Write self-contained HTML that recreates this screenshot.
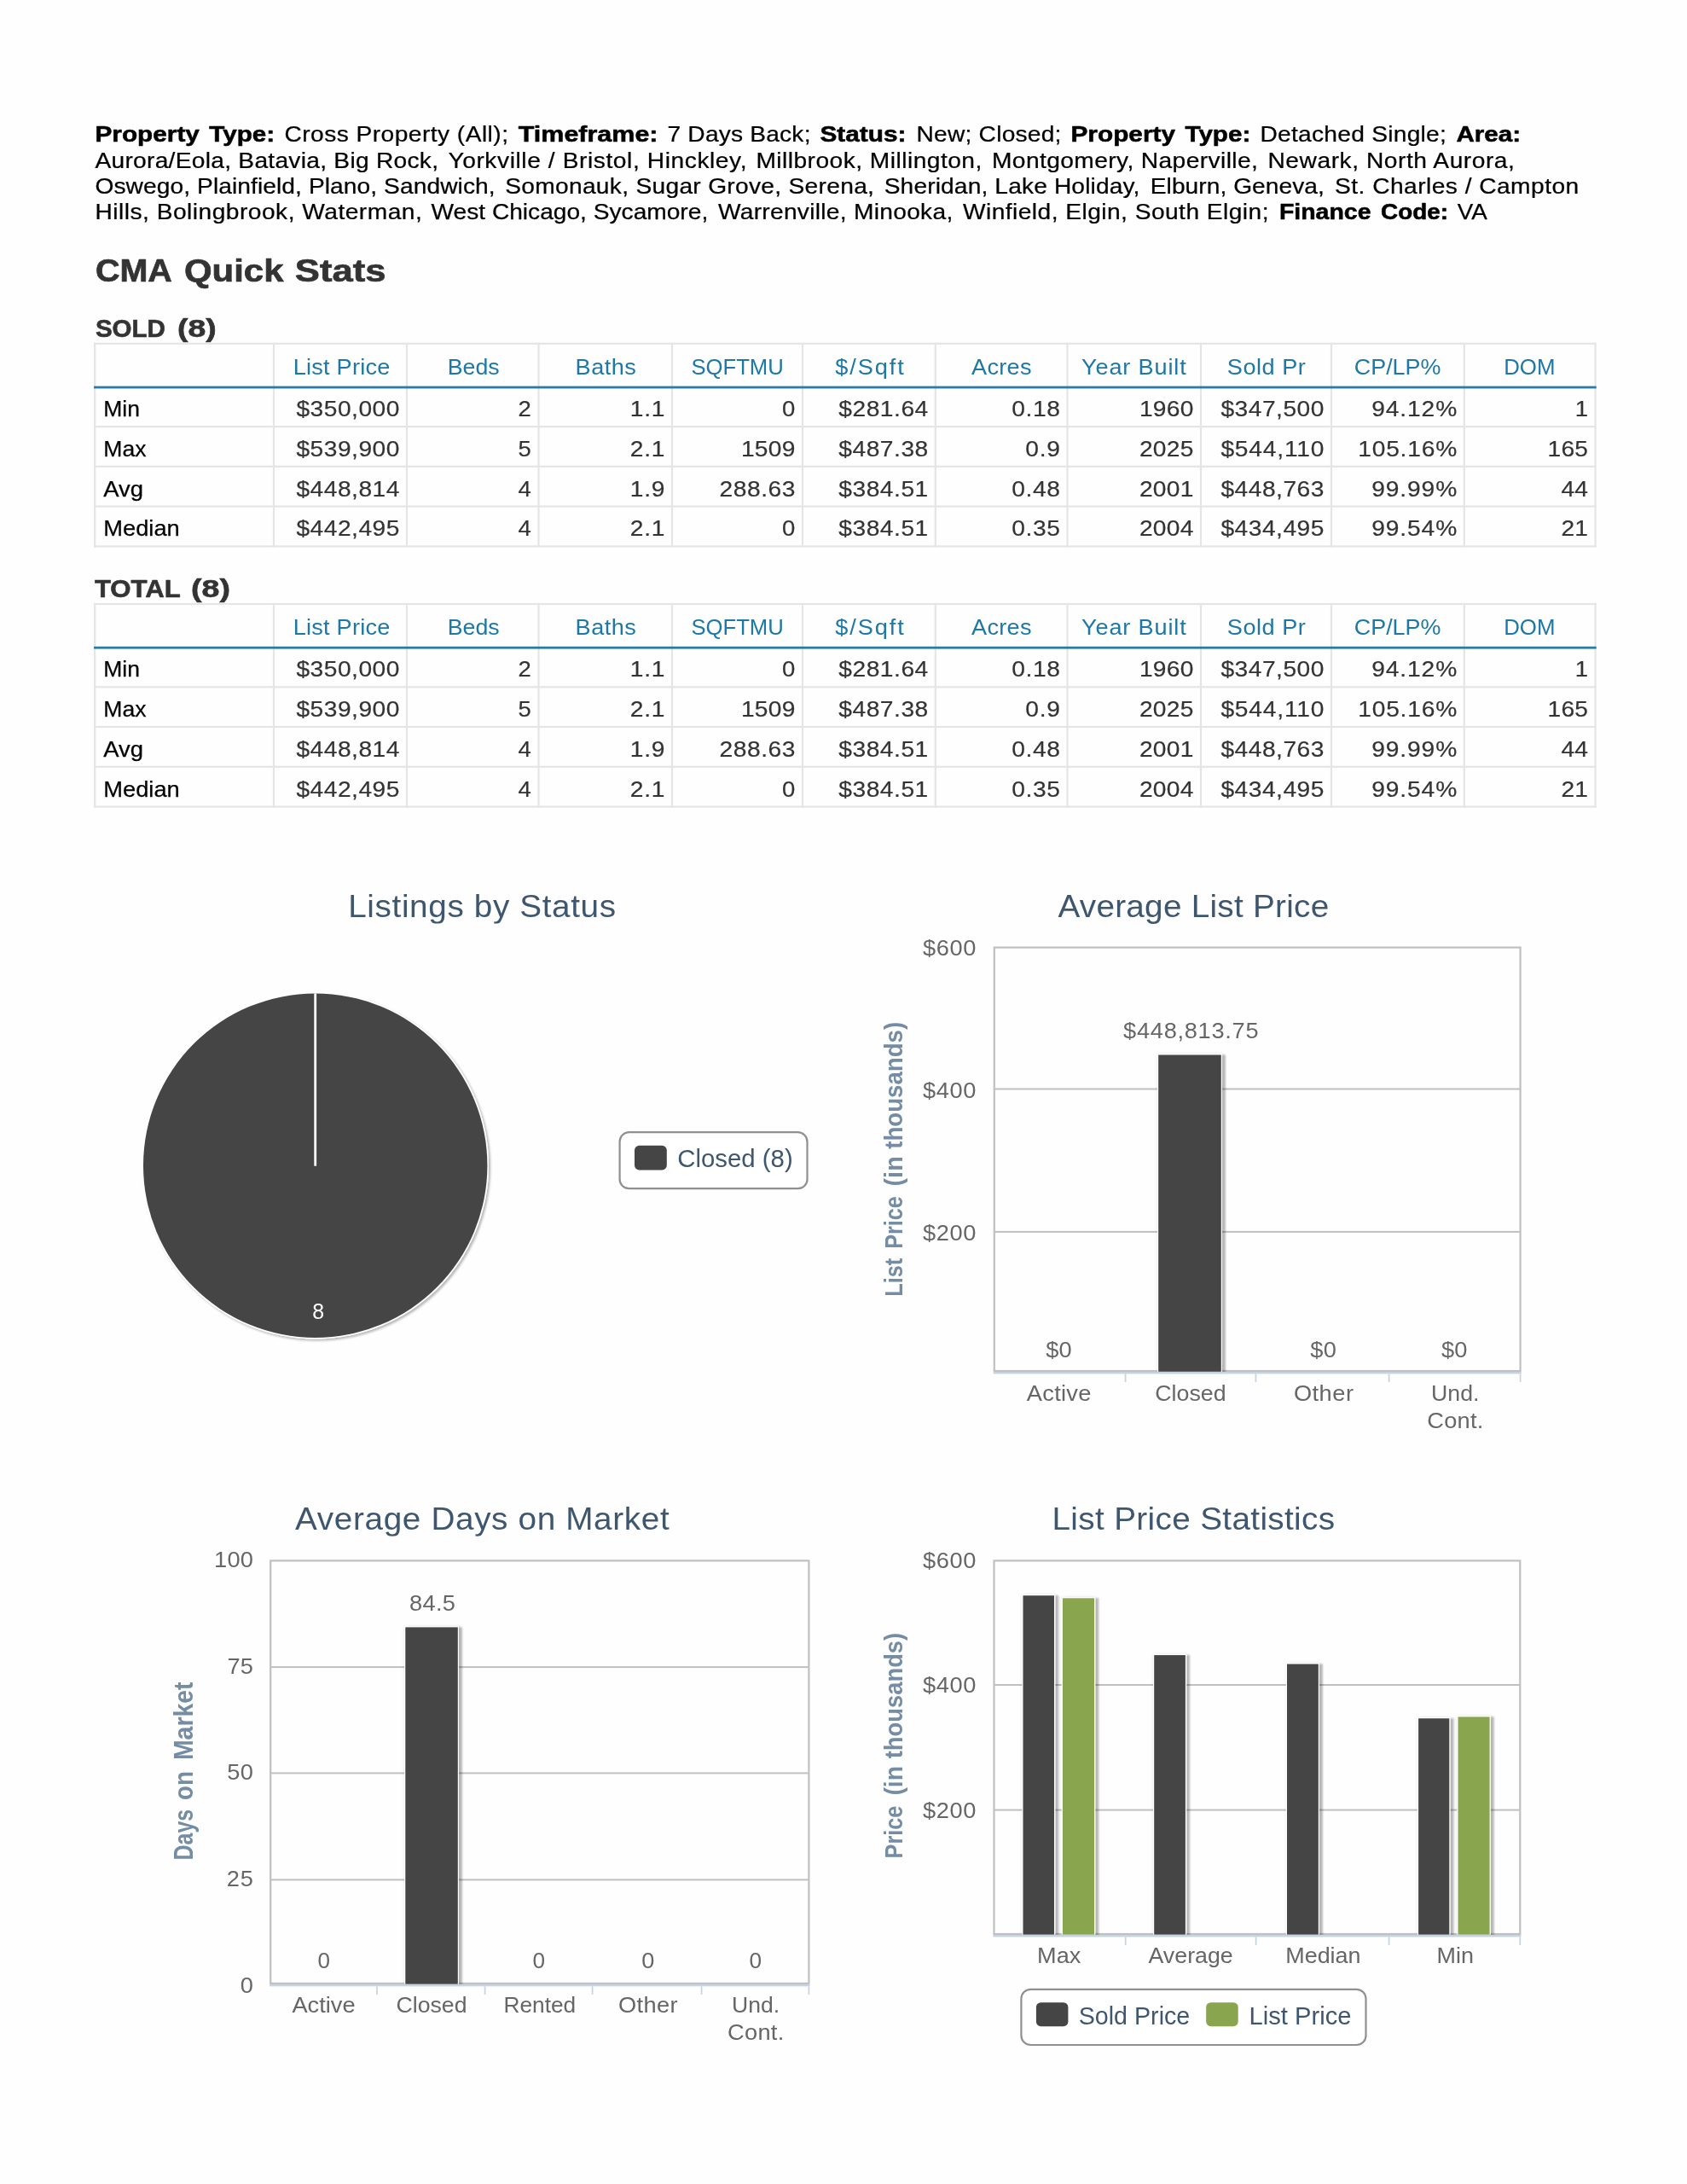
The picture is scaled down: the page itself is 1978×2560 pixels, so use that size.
<!DOCTYPE html>
<html lang="en">
<head>
<meta charset="utf-8">
<title>CMA Quick Stats</title>
<style>
html,body{margin:0;padding:0;background:#fefefe;}
body{width:1978px;height:2560px;overflow:hidden;font-family:'Liberation Sans', sans-serif;}
svg{display:block;}
svg text{font-family:"Liberation Sans",sans-serif;white-space:pre;}
</style>
</head>
<body>
<svg width="1978" height="2560" viewBox="0 0 1978 2560">
<defs>
<filter id="sh" x="-30%" y="-5%" width="170%" height="110%">
<feGaussianBlur in="SourceAlpha" stdDeviation="2.2" result="h0"/>
<feComponentTransfer in="h0" result="h"><feFuncA type="linear" slope="0.10"/></feComponentTransfer>
<feGaussianBlur in="SourceAlpha" stdDeviation="1.1"/><feOffset dx="4.4" dy="1.0"/>
<feComponentTransfer result="s"><feFuncA type="linear" slope="0.27"/></feComponentTransfer>
<feMerge><feMergeNode in="h"/><feMergeNode in="s"/><feMergeNode in="SourceGraphic"/></feMerge></filter>
<filter id="shp" x="-10%" y="-10%" width="120%" height="120%">
<feGaussianBlur in="SourceAlpha" stdDeviation="1.6"/><feOffset dx="2.2" dy="2.2" result="o"/>
<feComponentTransfer><feFuncA type="linear" slope="0.30"/></feComponentTransfer>
<feMerge><feMergeNode/><feMergeNode in="SourceGraphic"/></feMerge></filter>
</defs>
<rect x="0" y="0" width="1978" height="2560" fill="#fefefe"/>
<g opacity="0.999">
<text x="111.5" y="166.2" font-size="25.6" fill="#000" font-weight="bold" stroke="#000" stroke-width="0.55" stroke-linejoin="round" textLength="122.4" lengthAdjust="spacingAndGlyphs">Property</text>
<text x="245.3" y="166.2" font-size="25.6" fill="#000" font-weight="bold" stroke="#000" stroke-width="0.55" stroke-linejoin="round" textLength="76.9" lengthAdjust="spacingAndGlyphs">Type:</text>
<text transform="translate(333.5,166.2) scale(1.1,1)" font-size="25.6" fill="#000" stroke="#000" stroke-width="0.25" stroke-linejoin="round" textLength="238.6" lengthAdjust="spacing">Cross Property (All);</text>
<text x="607.8" y="166.2" font-size="25.6" fill="#000" font-weight="bold" stroke="#000" stroke-width="0.55" stroke-linejoin="round" textLength="163.7" lengthAdjust="spacingAndGlyphs">Timeframe:</text>
<text transform="translate(782.5,166.2) scale(1.1,1)" font-size="25.6" fill="#000" stroke="#000" stroke-width="0.25" stroke-linejoin="round" textLength="152.7" lengthAdjust="spacing">7 Days Back;</text>
<text x="961.5" y="166.2" font-size="25.6" fill="#000" font-weight="bold" stroke="#000" stroke-width="0.55" stroke-linejoin="round" textLength="101.0" lengthAdjust="spacingAndGlyphs">Status:</text>
<text transform="translate(1074.5,166.2) scale(1.1,1)" font-size="25.6" fill="#000" stroke="#000" stroke-width="0.25" stroke-linejoin="round" textLength="154.5" lengthAdjust="spacing">New; Closed;</text>
<text x="1255.5" y="166.2" font-size="25.6" fill="#000" font-weight="bold" stroke="#000" stroke-width="0.55" stroke-linejoin="round" textLength="122.5" lengthAdjust="spacingAndGlyphs">Property</text>
<text x="1389.5" y="166.2" font-size="25.6" fill="#000" font-weight="bold" stroke="#000" stroke-width="0.55" stroke-linejoin="round" textLength="76.8" lengthAdjust="spacingAndGlyphs">Type:</text>
<text transform="translate(1477.5,166.2) scale(1.1,1)" font-size="25.6" fill="#000" stroke="#000" stroke-width="0.25" stroke-linejoin="round" textLength="198.5" lengthAdjust="spacing">Detached Single;</text>
<text x="1707.4" y="166.2" font-size="25.6" fill="#000" font-weight="bold" stroke="#000" stroke-width="0.55" stroke-linejoin="round" textLength="75.6" lengthAdjust="spacingAndGlyphs">Area:</text>
<text transform="translate(111.5,196.7) scale(1.1,1)" font-size="25.6" fill="#000" stroke="#000" stroke-width="0.25" stroke-linejoin="round" textLength="365.9" lengthAdjust="spacing">Aurora/Eola, Batavia, Big Rock,</text>
<text transform="translate(525.4,196.7) scale(1.1,1)" font-size="25.6" fill="#000" stroke="#000" stroke-width="0.25" stroke-linejoin="round" textLength="318.3" lengthAdjust="spacing">Yorkville / Bristol, Hinckley,</text>
<text transform="translate(886.4,196.7) scale(1.1,1)" font-size="25.6" fill="#000" stroke="#000" stroke-width="0.25" stroke-linejoin="round" textLength="240.8" lengthAdjust="spacing">Millbrook, Millington,</text>
<text transform="translate(1163.0,196.7) scale(1.1,1)" font-size="25.6" fill="#000" stroke="#000" stroke-width="0.25" stroke-linejoin="round" textLength="283.5" lengthAdjust="spacing">Montgomery, Naperville,</text>
<text transform="translate(1486.5,196.7) scale(1.1,1)" font-size="25.6" fill="#000" stroke="#000" stroke-width="0.25" stroke-linejoin="round" textLength="263.1" lengthAdjust="spacing">Newark, North Aurora,</text>
<text transform="translate(111.5,226.9) scale(1.1,1)" font-size="25.6" fill="#000" stroke="#000" stroke-width="0.25" stroke-linejoin="round" textLength="426.5" lengthAdjust="spacing">Oswego, Plainfield, Plano, Sandwich,</text>
<text transform="translate(592.2,226.9) scale(1.1,1)" font-size="25.6" fill="#000" stroke="#000" stroke-width="0.25" stroke-linejoin="round" textLength="393.4" lengthAdjust="spacing">Somonauk, Sugar Grove, Serena,</text>
<text transform="translate(1036.7,226.9) scale(1.1,1)" font-size="25.6" fill="#000" stroke="#000" stroke-width="0.25" stroke-linejoin="round" textLength="272.5" lengthAdjust="spacing">Sheridan, Lake Holiday,</text>
<text transform="translate(1348.8,226.9) scale(1.1,1)" font-size="25.6" fill="#000" stroke="#000" stroke-width="0.25" stroke-linejoin="round" textLength="185.5" lengthAdjust="spacing">Elburn, Geneva,</text>
<text transform="translate(1565.1,226.9) scale(1.1,1)" font-size="25.6" fill="#000" stroke="#000" stroke-width="0.25" stroke-linejoin="round" textLength="260.1" lengthAdjust="spacing">St. Charles / Campton</text>
<text transform="translate(111.5,257.0) scale(1.1,1)" font-size="25.6" fill="#000" stroke="#000" stroke-width="0.25" stroke-linejoin="round" textLength="348.4" lengthAdjust="spacing">Hills, Bolingbrook, Waterman,</text>
<text x="505.5" y="257.0" font-size="25.6" fill="#000" stroke="#000" stroke-width="0.25" stroke-linejoin="round" textLength="324.7" lengthAdjust="spacingAndGlyphs">West Chicago, Sycamore,</text>
<text transform="translate(841.9,257.0) scale(1.1,1)" font-size="25.6" fill="#000" stroke="#000" stroke-width="0.25" stroke-linejoin="round" textLength="250.3" lengthAdjust="spacing">Warrenville, Minooka,</text>
<text transform="translate(1128.9,257.0) scale(1.1,1)" font-size="25.6" fill="#000" stroke="#000" stroke-width="0.25" stroke-linejoin="round" textLength="326.0" lengthAdjust="spacing">Winfield, Elgin, South Elgin;</text>
<text x="1499.9" y="257.0" font-size="25.6" fill="#000" font-weight="bold" stroke="#000" stroke-width="0.55" stroke-linejoin="round" textLength="107.6" lengthAdjust="spacingAndGlyphs">Finance</text>
<text x="1619.0" y="257.0" font-size="25.6" fill="#000" font-weight="bold" stroke="#000" stroke-width="0.55" stroke-linejoin="round" textLength="79.0" lengthAdjust="spacingAndGlyphs">Code:</text>
<text x="1708.8" y="257.0" font-size="25.6" fill="#000" stroke="#000" stroke-width="0.25" stroke-linejoin="round" textLength="35.1" lengthAdjust="spacingAndGlyphs">VA</text>
<text x="111.9" y="330.0" font-size="37.2" fill="#333" font-weight="bold" stroke="#333" stroke-width="0.7" stroke-linejoin="round" textLength="90.0" lengthAdjust="spacingAndGlyphs">CMA</text>
<text x="216.0" y="330.0" font-size="37.2" fill="#333" font-weight="bold" stroke="#333" stroke-width="0.7" stroke-linejoin="round" textLength="116.5" lengthAdjust="spacingAndGlyphs">Quick</text>
<text x="345.8" y="330.0" font-size="37.2" fill="#333" font-weight="bold" stroke="#333" stroke-width="0.7" stroke-linejoin="round" textLength="106.7" lengthAdjust="spacingAndGlyphs">Stats</text>
<text x="111.9" y="395.0" font-size="28.8" fill="#333" font-weight="bold" stroke="#333" stroke-width="0.6" stroke-linejoin="round" textLength="82.0" lengthAdjust="spacingAndGlyphs">SOLD</text>
<text x="208.0" y="395.0" font-size="28.8" fill="#333" font-weight="bold" stroke="#333" stroke-width="0.6" stroke-linejoin="round" textLength="45.7" lengthAdjust="spacingAndGlyphs">(8)</text>
<text x="110.9" y="700.0" font-size="28.8" fill="#333" font-weight="bold" stroke="#333" stroke-width="0.6" stroke-linejoin="round" textLength="101.0" lengthAdjust="spacingAndGlyphs">TOTAL</text>
<text x="224.0" y="700.0" font-size="28.8" fill="#333" font-weight="bold" stroke="#333" stroke-width="0.6" stroke-linejoin="round" textLength="45.9" lengthAdjust="spacingAndGlyphs">(8)</text>
<rect x="110.10" y="401.70" width="2.20" height="239.80" fill="#e5e5e5"/>
<rect x="319.90" y="401.70" width="2.20" height="239.80" fill="#e5e5e5"/>
<rect x="475.90" y="401.70" width="2.20" height="239.80" fill="#e5e5e5"/>
<rect x="630.40" y="401.70" width="2.20" height="239.80" fill="#e5e5e5"/>
<rect x="786.90" y="401.70" width="2.20" height="239.80" fill="#e5e5e5"/>
<rect x="939.90" y="401.70" width="2.20" height="239.80" fill="#e5e5e5"/>
<rect x="1095.70" y="401.70" width="2.20" height="239.80" fill="#e5e5e5"/>
<rect x="1250.40" y="401.70" width="2.20" height="239.80" fill="#e5e5e5"/>
<rect x="1406.90" y="401.70" width="2.20" height="239.80" fill="#e5e5e5"/>
<rect x="1559.90" y="401.70" width="2.20" height="239.80" fill="#e5e5e5"/>
<rect x="1715.70" y="401.70" width="2.20" height="239.80" fill="#e5e5e5"/>
<rect x="1869.50" y="401.70" width="2.20" height="239.80" fill="#e5e5e5"/>
<rect x="110.10" y="401.70" width="1761.60" height="2.20" fill="#e5e5e5"/>
<rect x="110.10" y="499.00" width="1761.60" height="2.20" fill="#e5e5e5"/>
<rect x="110.10" y="545.70" width="1761.60" height="2.20" fill="#e5e5e5"/>
<rect x="110.10" y="592.50" width="1761.60" height="2.20" fill="#e5e5e5"/>
<rect x="110.10" y="639.30" width="1761.60" height="2.20" fill="#e5e5e5"/>
<rect x="110.10" y="452.60" width="1761.60" height="2.80" fill="#2c7ba6"/>
<text transform="translate(343.7,439.1) scale(1.06,1)" font-size="25.6" fill="#1c78a6" textLength="107.2" lengthAdjust="spacing">List Price</text>
<text x="524.8" y="439.1" font-size="25.6" fill="#1c78a6" textLength="60.9" lengthAdjust="spacingAndGlyphs">Beds</text>
<text transform="translate(674.6,439.1) scale(1.06,1)" font-size="25.6" fill="#1c78a6" textLength="67.2" lengthAdjust="spacing">Baths</text>
<text x="810.4" y="439.1" font-size="25.6" fill="#1c78a6" textLength="108.4" lengthAdjust="spacingAndGlyphs">SQFTMU</text>
<text transform="translate(979.2,439.1) scale(1.06,1)" font-size="25.6" fill="#1c78a6" textLength="76.1" lengthAdjust="spacing">$/Sqft</text>
<text transform="translate(1139.1,439.1) scale(1.06,1)" font-size="25.6" fill="#1c78a6" textLength="66.4" lengthAdjust="spacing">Acres</text>
<text transform="translate(1268.0,439.1) scale(1.06,1)" font-size="25.6" fill="#1c78a6" textLength="115.8" lengthAdjust="spacing">Year Built</text>
<text transform="translate(1438.8,439.1) scale(1.06,1)" font-size="25.6" fill="#1c78a6" textLength="86.8" lengthAdjust="spacing">Sold Pr</text>
<text x="1587.8" y="439.1" font-size="25.6" fill="#1c78a6" textLength="101.6" lengthAdjust="spacingAndGlyphs">CP/LP%</text>
<text x="1763.2" y="439.1" font-size="25.6" fill="#1c78a6" textLength="60.3" lengthAdjust="spacingAndGlyphs">DOM</text>
<text x="121.3" y="488.0" font-size="25.6" fill="#000" stroke="#000" stroke-width="0.25" stroke-linejoin="round" textLength="42.7" lengthAdjust="spacingAndGlyphs">Min</text>
<text transform="translate(347.4,488.0) scale(1.1,1)" font-size="25.6" fill="#333" stroke="#333" stroke-width="0.2" stroke-linejoin="round" textLength="110.0" lengthAdjust="spacing">$350,000</text>
<text x="607.6" y="488.0" font-size="25.6" fill="#333" stroke="#333" stroke-width="0.2" stroke-linejoin="round" textLength="15.3" lengthAdjust="spacingAndGlyphs">2</text>
<text transform="translate(738.8,488.0) scale(1.1,1)" font-size="25.6" fill="#333" stroke="#333" stroke-width="0.2" stroke-linejoin="round" textLength="36.9" lengthAdjust="spacing">1.1</text>
<text x="917.1" y="488.0" font-size="25.6" fill="#333" stroke="#333" stroke-width="0.2" stroke-linejoin="round" textLength="15.3" lengthAdjust="spacingAndGlyphs">0</text>
<text transform="translate(983.3,488.0) scale(1.1,1)" font-size="25.6" fill="#333" stroke="#333" stroke-width="0.2" stroke-linejoin="round" textLength="95.4" lengthAdjust="spacing">$281.64</text>
<text transform="translate(1186.2,488.0) scale(1.1,1)" font-size="25.6" fill="#333" stroke="#333" stroke-width="0.2" stroke-linejoin="round" textLength="51.5" lengthAdjust="spacing">0.18</text>
<text transform="translate(1335.9,488.0) scale(1.1,1)" font-size="25.6" fill="#333" stroke="#333" stroke-width="0.2" stroke-linejoin="round" textLength="57.8" lengthAdjust="spacing">1960</text>
<text transform="translate(1431.4,488.0) scale(1.1,1)" font-size="25.6" fill="#333" stroke="#333" stroke-width="0.2" stroke-linejoin="round" textLength="110.0" lengthAdjust="spacing">$347,500</text>
<text transform="translate(1608.2,488.0) scale(1.1,1)" font-size="25.6" fill="#333" stroke="#333" stroke-width="0.2" stroke-linejoin="round" textLength="90.9" lengthAdjust="spacing">94.12%</text>
<text x="1846.7" y="488.0" font-size="25.6" fill="#333" stroke="#333" stroke-width="0.2" stroke-linejoin="round" textLength="15.3" lengthAdjust="spacingAndGlyphs">1</text>
<text x="121.3" y="534.8" font-size="25.6" fill="#000" stroke="#000" stroke-width="0.25" stroke-linejoin="round" textLength="50.2" lengthAdjust="spacingAndGlyphs">Max</text>
<text transform="translate(347.4,534.8) scale(1.1,1)" font-size="25.6" fill="#333" stroke="#333" stroke-width="0.2" stroke-linejoin="round" textLength="110.0" lengthAdjust="spacing">$539,900</text>
<text x="607.6" y="534.8" font-size="25.6" fill="#333" stroke="#333" stroke-width="0.2" stroke-linejoin="round" textLength="15.3" lengthAdjust="spacingAndGlyphs">5</text>
<text transform="translate(738.8,534.8) scale(1.1,1)" font-size="25.6" fill="#333" stroke="#333" stroke-width="0.2" stroke-linejoin="round" textLength="36.9" lengthAdjust="spacing">2.1</text>
<text transform="translate(868.9,534.8) scale(1.1,1)" font-size="25.6" fill="#333" stroke="#333" stroke-width="0.2" stroke-linejoin="round" textLength="57.8" lengthAdjust="spacing">1509</text>
<text transform="translate(983.3,534.8) scale(1.1,1)" font-size="25.6" fill="#333" stroke="#333" stroke-width="0.2" stroke-linejoin="round" textLength="95.4" lengthAdjust="spacing">$487.38</text>
<text transform="translate(1202.3,534.8) scale(1.1,1)" font-size="25.6" fill="#333" stroke="#333" stroke-width="0.2" stroke-linejoin="round" textLength="36.9" lengthAdjust="spacing">0.9</text>
<text transform="translate(1335.9,534.8) scale(1.1,1)" font-size="25.6" fill="#333" stroke="#333" stroke-width="0.2" stroke-linejoin="round" textLength="57.8" lengthAdjust="spacing">2025</text>
<text transform="translate(1431.4,534.8) scale(1.1,1)" font-size="25.6" fill="#333" stroke="#333" stroke-width="0.2" stroke-linejoin="round" textLength="110.0" lengthAdjust="spacing">$544,110</text>
<text transform="translate(1592.2,534.8) scale(1.1,1)" font-size="25.6" fill="#333" stroke="#333" stroke-width="0.2" stroke-linejoin="round" textLength="105.5" lengthAdjust="spacing">105.16%</text>
<text transform="translate(1814.6,534.8) scale(1.1,1)" font-size="25.6" fill="#333" stroke="#333" stroke-width="0.2" stroke-linejoin="round" textLength="43.1" lengthAdjust="spacing">165</text>
<text x="121.3" y="581.6" font-size="25.6" fill="#000" stroke="#000" stroke-width="0.25" stroke-linejoin="round" textLength="46.8" lengthAdjust="spacingAndGlyphs">Avg</text>
<text transform="translate(347.4,581.6) scale(1.1,1)" font-size="25.6" fill="#333" stroke="#333" stroke-width="0.2" stroke-linejoin="round" textLength="110.0" lengthAdjust="spacing">$448,814</text>
<text x="607.6" y="581.6" font-size="25.6" fill="#333" stroke="#333" stroke-width="0.2" stroke-linejoin="round" textLength="15.3" lengthAdjust="spacingAndGlyphs">4</text>
<text transform="translate(738.8,581.6) scale(1.1,1)" font-size="25.6" fill="#333" stroke="#333" stroke-width="0.2" stroke-linejoin="round" textLength="36.9" lengthAdjust="spacing">1.9</text>
<text transform="translate(843.6,581.6) scale(1.1,1)" font-size="25.6" fill="#333" stroke="#333" stroke-width="0.2" stroke-linejoin="round" textLength="80.7" lengthAdjust="spacing">288.63</text>
<text transform="translate(983.3,581.6) scale(1.1,1)" font-size="25.6" fill="#333" stroke="#333" stroke-width="0.2" stroke-linejoin="round" textLength="95.4" lengthAdjust="spacing">$384.51</text>
<text transform="translate(1186.2,581.6) scale(1.1,1)" font-size="25.6" fill="#333" stroke="#333" stroke-width="0.2" stroke-linejoin="round" textLength="51.5" lengthAdjust="spacing">0.48</text>
<text transform="translate(1335.9,581.6) scale(1.1,1)" font-size="25.6" fill="#333" stroke="#333" stroke-width="0.2" stroke-linejoin="round" textLength="57.8" lengthAdjust="spacing">2001</text>
<text transform="translate(1431.4,581.6) scale(1.1,1)" font-size="25.6" fill="#333" stroke="#333" stroke-width="0.2" stroke-linejoin="round" textLength="110.0" lengthAdjust="spacing">$448,763</text>
<text transform="translate(1608.2,581.6) scale(1.1,1)" font-size="25.6" fill="#333" stroke="#333" stroke-width="0.2" stroke-linejoin="round" textLength="90.9" lengthAdjust="spacing">99.99%</text>
<text transform="translate(1830.6,581.6) scale(1.1,1)" font-size="25.6" fill="#333" stroke="#333" stroke-width="0.2" stroke-linejoin="round" textLength="28.5" lengthAdjust="spacing">44</text>
<text x="121.3" y="628.4" font-size="25.6" fill="#000" stroke="#000" stroke-width="0.25" stroke-linejoin="round" textLength="89.5" lengthAdjust="spacingAndGlyphs">Median</text>
<text transform="translate(347.4,628.4) scale(1.1,1)" font-size="25.6" fill="#333" stroke="#333" stroke-width="0.2" stroke-linejoin="round" textLength="110.0" lengthAdjust="spacing">$442,495</text>
<text x="607.6" y="628.4" font-size="25.6" fill="#333" stroke="#333" stroke-width="0.2" stroke-linejoin="round" textLength="15.3" lengthAdjust="spacingAndGlyphs">4</text>
<text transform="translate(738.8,628.4) scale(1.1,1)" font-size="25.6" fill="#333" stroke="#333" stroke-width="0.2" stroke-linejoin="round" textLength="36.9" lengthAdjust="spacing">2.1</text>
<text x="917.1" y="628.4" font-size="25.6" fill="#333" stroke="#333" stroke-width="0.2" stroke-linejoin="round" textLength="15.3" lengthAdjust="spacingAndGlyphs">0</text>
<text transform="translate(983.3,628.4) scale(1.1,1)" font-size="25.6" fill="#333" stroke="#333" stroke-width="0.2" stroke-linejoin="round" textLength="95.4" lengthAdjust="spacing">$384.51</text>
<text transform="translate(1186.2,628.4) scale(1.1,1)" font-size="25.6" fill="#333" stroke="#333" stroke-width="0.2" stroke-linejoin="round" textLength="51.5" lengthAdjust="spacing">0.35</text>
<text transform="translate(1335.9,628.4) scale(1.1,1)" font-size="25.6" fill="#333" stroke="#333" stroke-width="0.2" stroke-linejoin="round" textLength="57.8" lengthAdjust="spacing">2004</text>
<text transform="translate(1431.4,628.4) scale(1.1,1)" font-size="25.6" fill="#333" stroke="#333" stroke-width="0.2" stroke-linejoin="round" textLength="110.0" lengthAdjust="spacing">$434,495</text>
<text transform="translate(1608.2,628.4) scale(1.1,1)" font-size="25.6" fill="#333" stroke="#333" stroke-width="0.2" stroke-linejoin="round" textLength="90.9" lengthAdjust="spacing">99.54%</text>
<text transform="translate(1830.6,628.4) scale(1.1,1)" font-size="25.6" fill="#333" stroke="#333" stroke-width="0.2" stroke-linejoin="round" textLength="28.5" lengthAdjust="spacing">21</text>
<rect x="110.10" y="706.90" width="2.20" height="239.80" fill="#e5e5e5"/>
<rect x="319.90" y="706.90" width="2.20" height="239.80" fill="#e5e5e5"/>
<rect x="475.90" y="706.90" width="2.20" height="239.80" fill="#e5e5e5"/>
<rect x="630.40" y="706.90" width="2.20" height="239.80" fill="#e5e5e5"/>
<rect x="786.90" y="706.90" width="2.20" height="239.80" fill="#e5e5e5"/>
<rect x="939.90" y="706.90" width="2.20" height="239.80" fill="#e5e5e5"/>
<rect x="1095.70" y="706.90" width="2.20" height="239.80" fill="#e5e5e5"/>
<rect x="1250.40" y="706.90" width="2.20" height="239.80" fill="#e5e5e5"/>
<rect x="1406.90" y="706.90" width="2.20" height="239.80" fill="#e5e5e5"/>
<rect x="1559.90" y="706.90" width="2.20" height="239.80" fill="#e5e5e5"/>
<rect x="1715.70" y="706.90" width="2.20" height="239.80" fill="#e5e5e5"/>
<rect x="1869.50" y="706.90" width="2.20" height="239.80" fill="#e5e5e5"/>
<rect x="110.10" y="706.90" width="1761.60" height="2.20" fill="#e5e5e5"/>
<rect x="110.10" y="804.20" width="1761.60" height="2.20" fill="#e5e5e5"/>
<rect x="110.10" y="850.90" width="1761.60" height="2.20" fill="#e5e5e5"/>
<rect x="110.10" y="897.70" width="1761.60" height="2.20" fill="#e5e5e5"/>
<rect x="110.10" y="944.50" width="1761.60" height="2.20" fill="#e5e5e5"/>
<rect x="110.10" y="757.80" width="1761.60" height="2.80" fill="#2c7ba6"/>
<text transform="translate(343.7,744.3) scale(1.06,1)" font-size="25.6" fill="#1c78a6" textLength="107.2" lengthAdjust="spacing">List Price</text>
<text x="524.8" y="744.3" font-size="25.6" fill="#1c78a6" textLength="60.9" lengthAdjust="spacingAndGlyphs">Beds</text>
<text transform="translate(674.6,744.3) scale(1.06,1)" font-size="25.6" fill="#1c78a6" textLength="67.2" lengthAdjust="spacing">Baths</text>
<text x="810.4" y="744.3" font-size="25.6" fill="#1c78a6" textLength="108.4" lengthAdjust="spacingAndGlyphs">SQFTMU</text>
<text transform="translate(979.2,744.3) scale(1.06,1)" font-size="25.6" fill="#1c78a6" textLength="76.1" lengthAdjust="spacing">$/Sqft</text>
<text transform="translate(1139.1,744.3) scale(1.06,1)" font-size="25.6" fill="#1c78a6" textLength="66.4" lengthAdjust="spacing">Acres</text>
<text transform="translate(1268.0,744.3) scale(1.06,1)" font-size="25.6" fill="#1c78a6" textLength="115.8" lengthAdjust="spacing">Year Built</text>
<text transform="translate(1438.8,744.3) scale(1.06,1)" font-size="25.6" fill="#1c78a6" textLength="86.8" lengthAdjust="spacing">Sold Pr</text>
<text x="1587.8" y="744.3" font-size="25.6" fill="#1c78a6" textLength="101.6" lengthAdjust="spacingAndGlyphs">CP/LP%</text>
<text x="1763.2" y="744.3" font-size="25.6" fill="#1c78a6" textLength="60.3" lengthAdjust="spacingAndGlyphs">DOM</text>
<text x="121.3" y="793.2" font-size="25.6" fill="#000" stroke="#000" stroke-width="0.25" stroke-linejoin="round" textLength="42.7" lengthAdjust="spacingAndGlyphs">Min</text>
<text transform="translate(347.4,793.2) scale(1.1,1)" font-size="25.6" fill="#333" stroke="#333" stroke-width="0.2" stroke-linejoin="round" textLength="110.0" lengthAdjust="spacing">$350,000</text>
<text x="607.6" y="793.2" font-size="25.6" fill="#333" stroke="#333" stroke-width="0.2" stroke-linejoin="round" textLength="15.3" lengthAdjust="spacingAndGlyphs">2</text>
<text transform="translate(738.8,793.2) scale(1.1,1)" font-size="25.6" fill="#333" stroke="#333" stroke-width="0.2" stroke-linejoin="round" textLength="36.9" lengthAdjust="spacing">1.1</text>
<text x="917.1" y="793.2" font-size="25.6" fill="#333" stroke="#333" stroke-width="0.2" stroke-linejoin="round" textLength="15.3" lengthAdjust="spacingAndGlyphs">0</text>
<text transform="translate(983.3,793.2) scale(1.1,1)" font-size="25.6" fill="#333" stroke="#333" stroke-width="0.2" stroke-linejoin="round" textLength="95.4" lengthAdjust="spacing">$281.64</text>
<text transform="translate(1186.2,793.2) scale(1.1,1)" font-size="25.6" fill="#333" stroke="#333" stroke-width="0.2" stroke-linejoin="round" textLength="51.5" lengthAdjust="spacing">0.18</text>
<text transform="translate(1335.9,793.2) scale(1.1,1)" font-size="25.6" fill="#333" stroke="#333" stroke-width="0.2" stroke-linejoin="round" textLength="57.8" lengthAdjust="spacing">1960</text>
<text transform="translate(1431.4,793.2) scale(1.1,1)" font-size="25.6" fill="#333" stroke="#333" stroke-width="0.2" stroke-linejoin="round" textLength="110.0" lengthAdjust="spacing">$347,500</text>
<text transform="translate(1608.2,793.2) scale(1.1,1)" font-size="25.6" fill="#333" stroke="#333" stroke-width="0.2" stroke-linejoin="round" textLength="90.9" lengthAdjust="spacing">94.12%</text>
<text x="1846.7" y="793.2" font-size="25.6" fill="#333" stroke="#333" stroke-width="0.2" stroke-linejoin="round" textLength="15.3" lengthAdjust="spacingAndGlyphs">1</text>
<text x="121.3" y="840.0" font-size="25.6" fill="#000" stroke="#000" stroke-width="0.25" stroke-linejoin="round" textLength="50.2" lengthAdjust="spacingAndGlyphs">Max</text>
<text transform="translate(347.4,840.0) scale(1.1,1)" font-size="25.6" fill="#333" stroke="#333" stroke-width="0.2" stroke-linejoin="round" textLength="110.0" lengthAdjust="spacing">$539,900</text>
<text x="607.6" y="840.0" font-size="25.6" fill="#333" stroke="#333" stroke-width="0.2" stroke-linejoin="round" textLength="15.3" lengthAdjust="spacingAndGlyphs">5</text>
<text transform="translate(738.8,840.0) scale(1.1,1)" font-size="25.6" fill="#333" stroke="#333" stroke-width="0.2" stroke-linejoin="round" textLength="36.9" lengthAdjust="spacing">2.1</text>
<text transform="translate(868.9,840.0) scale(1.1,1)" font-size="25.6" fill="#333" stroke="#333" stroke-width="0.2" stroke-linejoin="round" textLength="57.8" lengthAdjust="spacing">1509</text>
<text transform="translate(983.3,840.0) scale(1.1,1)" font-size="25.6" fill="#333" stroke="#333" stroke-width="0.2" stroke-linejoin="round" textLength="95.4" lengthAdjust="spacing">$487.38</text>
<text transform="translate(1202.3,840.0) scale(1.1,1)" font-size="25.6" fill="#333" stroke="#333" stroke-width="0.2" stroke-linejoin="round" textLength="36.9" lengthAdjust="spacing">0.9</text>
<text transform="translate(1335.9,840.0) scale(1.1,1)" font-size="25.6" fill="#333" stroke="#333" stroke-width="0.2" stroke-linejoin="round" textLength="57.8" lengthAdjust="spacing">2025</text>
<text transform="translate(1431.4,840.0) scale(1.1,1)" font-size="25.6" fill="#333" stroke="#333" stroke-width="0.2" stroke-linejoin="round" textLength="110.0" lengthAdjust="spacing">$544,110</text>
<text transform="translate(1592.2,840.0) scale(1.1,1)" font-size="25.6" fill="#333" stroke="#333" stroke-width="0.2" stroke-linejoin="round" textLength="105.5" lengthAdjust="spacing">105.16%</text>
<text transform="translate(1814.6,840.0) scale(1.1,1)" font-size="25.6" fill="#333" stroke="#333" stroke-width="0.2" stroke-linejoin="round" textLength="43.1" lengthAdjust="spacing">165</text>
<text x="121.3" y="886.8" font-size="25.6" fill="#000" stroke="#000" stroke-width="0.25" stroke-linejoin="round" textLength="46.8" lengthAdjust="spacingAndGlyphs">Avg</text>
<text transform="translate(347.4,886.8) scale(1.1,1)" font-size="25.6" fill="#333" stroke="#333" stroke-width="0.2" stroke-linejoin="round" textLength="110.0" lengthAdjust="spacing">$448,814</text>
<text x="607.6" y="886.8" font-size="25.6" fill="#333" stroke="#333" stroke-width="0.2" stroke-linejoin="round" textLength="15.3" lengthAdjust="spacingAndGlyphs">4</text>
<text transform="translate(738.8,886.8) scale(1.1,1)" font-size="25.6" fill="#333" stroke="#333" stroke-width="0.2" stroke-linejoin="round" textLength="36.9" lengthAdjust="spacing">1.9</text>
<text transform="translate(843.6,886.8) scale(1.1,1)" font-size="25.6" fill="#333" stroke="#333" stroke-width="0.2" stroke-linejoin="round" textLength="80.7" lengthAdjust="spacing">288.63</text>
<text transform="translate(983.3,886.8) scale(1.1,1)" font-size="25.6" fill="#333" stroke="#333" stroke-width="0.2" stroke-linejoin="round" textLength="95.4" lengthAdjust="spacing">$384.51</text>
<text transform="translate(1186.2,886.8) scale(1.1,1)" font-size="25.6" fill="#333" stroke="#333" stroke-width="0.2" stroke-linejoin="round" textLength="51.5" lengthAdjust="spacing">0.48</text>
<text transform="translate(1335.9,886.8) scale(1.1,1)" font-size="25.6" fill="#333" stroke="#333" stroke-width="0.2" stroke-linejoin="round" textLength="57.8" lengthAdjust="spacing">2001</text>
<text transform="translate(1431.4,886.8) scale(1.1,1)" font-size="25.6" fill="#333" stroke="#333" stroke-width="0.2" stroke-linejoin="round" textLength="110.0" lengthAdjust="spacing">$448,763</text>
<text transform="translate(1608.2,886.8) scale(1.1,1)" font-size="25.6" fill="#333" stroke="#333" stroke-width="0.2" stroke-linejoin="round" textLength="90.9" lengthAdjust="spacing">99.99%</text>
<text transform="translate(1830.6,886.8) scale(1.1,1)" font-size="25.6" fill="#333" stroke="#333" stroke-width="0.2" stroke-linejoin="round" textLength="28.5" lengthAdjust="spacing">44</text>
<text x="121.3" y="933.6" font-size="25.6" fill="#000" stroke="#000" stroke-width="0.25" stroke-linejoin="round" textLength="89.5" lengthAdjust="spacingAndGlyphs">Median</text>
<text transform="translate(347.4,933.6) scale(1.1,1)" font-size="25.6" fill="#333" stroke="#333" stroke-width="0.2" stroke-linejoin="round" textLength="110.0" lengthAdjust="spacing">$442,495</text>
<text x="607.6" y="933.6" font-size="25.6" fill="#333" stroke="#333" stroke-width="0.2" stroke-linejoin="round" textLength="15.3" lengthAdjust="spacingAndGlyphs">4</text>
<text transform="translate(738.8,933.6) scale(1.1,1)" font-size="25.6" fill="#333" stroke="#333" stroke-width="0.2" stroke-linejoin="round" textLength="36.9" lengthAdjust="spacing">2.1</text>
<text x="917.1" y="933.6" font-size="25.6" fill="#333" stroke="#333" stroke-width="0.2" stroke-linejoin="round" textLength="15.3" lengthAdjust="spacingAndGlyphs">0</text>
<text transform="translate(983.3,933.6) scale(1.1,1)" font-size="25.6" fill="#333" stroke="#333" stroke-width="0.2" stroke-linejoin="round" textLength="95.4" lengthAdjust="spacing">$384.51</text>
<text transform="translate(1186.2,933.6) scale(1.1,1)" font-size="25.6" fill="#333" stroke="#333" stroke-width="0.2" stroke-linejoin="round" textLength="51.5" lengthAdjust="spacing">0.35</text>
<text transform="translate(1335.9,933.6) scale(1.1,1)" font-size="25.6" fill="#333" stroke="#333" stroke-width="0.2" stroke-linejoin="round" textLength="57.8" lengthAdjust="spacing">2004</text>
<text transform="translate(1431.4,933.6) scale(1.1,1)" font-size="25.6" fill="#333" stroke="#333" stroke-width="0.2" stroke-linejoin="round" textLength="110.0" lengthAdjust="spacing">$434,495</text>
<text transform="translate(1608.2,933.6) scale(1.1,1)" font-size="25.6" fill="#333" stroke="#333" stroke-width="0.2" stroke-linejoin="round" textLength="90.9" lengthAdjust="spacing">99.54%</text>
<text transform="translate(1830.6,933.6) scale(1.1,1)" font-size="25.6" fill="#333" stroke="#333" stroke-width="0.2" stroke-linejoin="round" textLength="28.5" lengthAdjust="spacing">21</text>
<text transform="translate(408.2,1074.5) scale(1.07,1)" font-size="36.2" fill="#3E576F" textLength="293.4" lengthAdjust="spacing">Listings by Status</text>
<circle cx="369.7" cy="1366.2" r="203.29999999999998" fill="#fff" filter="url(#shp)"/>
<circle cx="369.7" cy="1366.2" r="201.7" fill="#454545"/>
<rect x="368.30" y="1164.50" width="2.80" height="202.20" fill="#fff"/>
<text x="366.2" y="1546.2" font-size="26.2" fill="#fff" textLength="13.9" lengthAdjust="spacingAndGlyphs">8</text>
<rect x="726.60" y="1327.20" width="219.90" height="66.00" rx="11" ry="11" fill="#fff" stroke="#909090" stroke-width="2.2"/>
<rect x="744.00" y="1342.80" width="37.80" height="28.60" rx="5.5" ry="5.5" fill="#454545"/>
<text x="794.3" y="1368.4" font-size="29.6" fill="#3E576F" textLength="135.4" lengthAdjust="spacingAndGlyphs">Closed (8)</text>
<text transform="translate(1240.4,1075.0) scale(1.07,1)" font-size="36.2" fill="#3E576F" textLength="297.0" lengthAdjust="spacing">Average List Price</text>
<rect x="1165.80" y="1275.50" width="616.80" height="2.00" fill="#C0C0C0"/>
<rect x="1165.80" y="1442.90" width="616.80" height="2.00" fill="#C0C0C0"/>
<rect x="1165.80" y="1110.60" width="616.80" height="496.40" fill="none" stroke="#C0C0C0" stroke-width="2.2"/>
<rect x="1357.00" y="1235.30" width="76.00" height="372.50" fill="#fff" filter="url(#sh)"/>
<rect x="1358.20" y="1236.50" width="73.60" height="371.30" fill="#454545"/>
<rect x="1164.70" y="1608.00" width="619.00" height="2.40" fill="#C6D3E0"/>
<rect x="1318.75" y="1610.40" width="1.70" height="9.60" fill="#C6D3E0"/>
<rect x="1471.55" y="1610.40" width="1.70" height="9.60" fill="#C6D3E0"/>
<rect x="1627.75" y="1610.40" width="1.70" height="9.60" fill="#C6D3E0"/>
<rect x="1781.75" y="1610.40" width="1.70" height="9.60" fill="#C6D3E0"/>
<text transform="translate(1082.1,1120.0) scale(1.04,1)" font-size="26.2" fill="#666666" textLength="60.0" lengthAdjust="spacing">$600</text>
<text transform="translate(1082.1,1286.8) scale(1.04,1)" font-size="26.2" fill="#666666" textLength="60.0" lengthAdjust="spacing">$400</text>
<text transform="translate(1082.1,1454.2) scale(1.04,1)" font-size="26.2" fill="#666666" textLength="60.0" lengthAdjust="spacing">$200</text>
<text transform="translate(1317.1,1217.3) scale(1.04,1)" font-size="26.2" fill="#666666" textLength="152.4" lengthAdjust="spacing">$448,813.75</text>
<text transform="translate(1226.3,1590.5) scale(1.04,1)" font-size="26.2" fill="#666666" textLength="29.2" lengthAdjust="spacing">$0</text>
<text transform="translate(1536.3,1590.5) scale(1.04,1)" font-size="26.2" fill="#666666" textLength="29.4" lengthAdjust="spacing">$0</text>
<text x="1690.0" y="1590.5" font-size="26.2" fill="#666666" textLength="30.3" lengthAdjust="spacingAndGlyphs">$0</text>
<text transform="translate(1203.8,1641.5) scale(1.04,1)" font-size="26.2" fill="#666666" textLength="72.7" lengthAdjust="spacing">Active</text>
<text x="1354.3" y="1641.5" font-size="26.2" fill="#666666" textLength="83.3" lengthAdjust="spacingAndGlyphs">Closed</text>
<text transform="translate(1516.9,1641.5) scale(1.04,1)" font-size="26.2" fill="#666666" textLength="67.4" lengthAdjust="spacing">Other</text>
<text x="1678.1" y="1641.5" font-size="26.2" fill="#666666" textLength="56.4" lengthAdjust="spacingAndGlyphs">Und.</text>
<text transform="translate(1673.3,1674.2) scale(1.04,1)" font-size="26.2" fill="#666666" textLength="63.5" lengthAdjust="spacing">Cont.</text>
<text transform="translate(1057.9,1519.8) rotate(-90)" font-size="30.2" fill="#748CA4" font-weight="bold" textLength="45.1" lengthAdjust="spacingAndGlyphs">List</text>
<text transform="translate(1057.9,1463.8) rotate(-90)" font-size="30.2" fill="#748CA4" font-weight="bold" textLength="61.6" lengthAdjust="spacingAndGlyphs">Price</text>
<text transform="translate(1057.9,1390.5) rotate(-90)" font-size="30.2" fill="#748CA4" font-weight="bold" textLength="35.3" lengthAdjust="spacingAndGlyphs">(in</text>
<text transform="translate(1057.9,1346.8) rotate(-90)" font-size="30.2" fill="#748CA4" font-weight="bold" textLength="149.0" lengthAdjust="spacingAndGlyphs">thousands)</text>
<text transform="translate(346.1,1792.6) scale(1.07,1)" font-size="36.2" fill="#3E576F" textLength="409.9" lengthAdjust="spacing">Average Days on Market</text>
<rect x="317.20" y="1953.10" width="631.20" height="2.00" fill="#C0C0C0"/>
<rect x="317.20" y="2077.40" width="631.20" height="2.00" fill="#C0C0C0"/>
<rect x="317.20" y="2202.40" width="631.20" height="2.00" fill="#C0C0C0"/>
<rect x="317.20" y="1829.40" width="631.20" height="495.50" fill="none" stroke="#C0C0C0" stroke-width="2.2"/>
<rect x="474.10" y="1906.20" width="63.90" height="419.50" fill="#fff" filter="url(#sh)"/>
<rect x="475.30" y="1907.40" width="61.50" height="418.30" fill="#454545"/>
<rect x="316.10" y="2325.90" width="633.40" height="2.40" fill="#C6D3E0"/>
<rect x="441.15" y="2328.30" width="1.70" height="9.60" fill="#C6D3E0"/>
<rect x="567.75" y="2328.30" width="1.70" height="9.60" fill="#C6D3E0"/>
<rect x="693.75" y="2328.30" width="1.70" height="9.60" fill="#C6D3E0"/>
<rect x="821.75" y="2328.30" width="1.70" height="9.60" fill="#C6D3E0"/>
<rect x="947.55" y="2328.30" width="1.70" height="9.60" fill="#C6D3E0"/>
<text transform="translate(251.1,1837.2) scale(1.04,1)" font-size="26.2" fill="#666666" textLength="44.0" lengthAdjust="spacing">100</text>
<text x="266.6" y="1961.7" font-size="26.2" fill="#666666" textLength="30.3" lengthAdjust="spacingAndGlyphs">75</text>
<text transform="translate(266.3,2086.2) scale(1.04,1)" font-size="26.2" fill="#666666" textLength="29.4" lengthAdjust="spacing">50</text>
<text transform="translate(265.8,2211.1) scale(1.04,1)" font-size="26.2" fill="#666666" textLength="29.9" lengthAdjust="spacing">25</text>
<text transform="translate(281.7,2336.0) scale(1.04,1)" font-size="26.2" fill="#666666" textLength="14.6" lengthAdjust="spacing">0</text>
<text transform="translate(480.0,1888.2) scale(1.04,1)" font-size="26.2" fill="#666666" textLength="51.9" lengthAdjust="spacing">84.5</text>
<text x="372.5" y="2307.4" font-size="26.2" fill="#666666" textLength="14.5" lengthAdjust="spacingAndGlyphs">0</text>
<text x="624.5" y="2307.4" font-size="26.2" fill="#666666" textLength="14.6" lengthAdjust="spacingAndGlyphs">0</text>
<text x="752.2" y="2307.4" font-size="26.2" fill="#666666" textLength="15.1" lengthAdjust="spacingAndGlyphs">0</text>
<text x="878.5" y="2307.4" font-size="26.2" fill="#666666" textLength="14.6" lengthAdjust="spacingAndGlyphs">0</text>
<text x="342.4" y="2359.0" font-size="26.2" fill="#666666" textLength="74.2" lengthAdjust="spacingAndGlyphs">Active</text>
<text x="464.5" y="2359.0" font-size="26.2" fill="#666666" textLength="83.0" lengthAdjust="spacingAndGlyphs">Closed</text>
<text x="590.4" y="2359.0" font-size="26.2" fill="#666666" textLength="84.8" lengthAdjust="spacingAndGlyphs">Rented</text>
<text transform="translate(724.9,2359.0) scale(1.04,1)" font-size="26.2" fill="#666666" textLength="67.1" lengthAdjust="spacing">Other</text>
<text x="858.1" y="2359.0" font-size="26.2" fill="#666666" textLength="56.1" lengthAdjust="spacingAndGlyphs">Und.</text>
<text transform="translate(853.1,2390.8) scale(1.04,1)" font-size="26.2" fill="#666666" textLength="63.6" lengthAdjust="spacing">Cont.</text>
<text transform="translate(225.8,2180.4) rotate(-90)" font-size="30.8" fill="#748CA4" font-weight="bold" textLength="59.6" lengthAdjust="spacingAndGlyphs">Days</text>
<text transform="translate(225.8,2110.0) rotate(-90)" font-size="30.8" fill="#748CA4" font-weight="bold" textLength="33.8" lengthAdjust="spacingAndGlyphs">on</text>
<text transform="translate(225.8,2063.1) rotate(-90)" font-size="30.8" fill="#748CA4" font-weight="bold" textLength="91.7" lengthAdjust="spacingAndGlyphs">Market</text>
<text transform="translate(1233.5,1792.6) scale(1.07,1)" font-size="36.2" fill="#3E576F" textLength="309.9" lengthAdjust="spacing">List Price Statistics</text>
<rect x="1165.50" y="1974.00" width="616.80" height="2.00" fill="#C0C0C0"/>
<rect x="1165.50" y="2120.60" width="616.80" height="2.00" fill="#C0C0C0"/>
<rect x="1165.50" y="1829.40" width="616.80" height="437.60" fill="none" stroke="#C0C0C0" stroke-width="2.2"/>
<rect x="1198.30" y="1869.04" width="38.90" height="398.56" fill="#fff" filter="url(#sh)"/>
<rect x="1199.50" y="1870.24" width="36.50" height="397.36" fill="#454545"/>
<rect x="1244.70" y="1872.12" width="39.50" height="395.48" fill="#fff" filter="url(#sh)"/>
<rect x="1245.90" y="1873.32" width="37.10" height="394.28" fill="#89A54E"/>
<rect x="1352.00" y="1938.88" width="39.10" height="328.72" fill="#fff" filter="url(#sh)"/>
<rect x="1353.20" y="1940.08" width="36.70" height="327.52" fill="#454545"/>
<rect x="1507.80" y="1949.33" width="39.20" height="318.27" fill="#fff" filter="url(#sh)"/>
<rect x="1509.00" y="1950.53" width="36.80" height="317.07" fill="#454545"/>
<rect x="1661.90" y="2013.06" width="38.60" height="254.54" fill="#fff" filter="url(#sh)"/>
<rect x="1663.10" y="2014.26" width="36.20" height="253.34" fill="#454545"/>
<rect x="1708.30" y="2011.23" width="39.50" height="256.37" fill="#fff" filter="url(#sh)"/>
<rect x="1709.50" y="2012.43" width="37.10" height="255.17" fill="#89A54E"/>
<rect x="1164.40" y="2268.00" width="619.00" height="2.40" fill="#C6D3E0"/>
<rect x="1318.85" y="2270.40" width="1.70" height="9.60" fill="#C6D3E0"/>
<rect x="1471.75" y="2270.40" width="1.70" height="9.60" fill="#C6D3E0"/>
<rect x="1627.75" y="2270.40" width="1.70" height="9.60" fill="#C6D3E0"/>
<rect x="1781.45" y="2270.40" width="1.70" height="9.60" fill="#C6D3E0"/>
<text transform="translate(1082.1,1837.9) scale(1.04,1)" font-size="26.2" fill="#666666" textLength="60.0" lengthAdjust="spacing">$600</text>
<text transform="translate(1082.1,1984.2) scale(1.04,1)" font-size="26.2" fill="#666666" textLength="60.0" lengthAdjust="spacing">$400</text>
<text transform="translate(1082.1,2131.0) scale(1.04,1)" font-size="26.2" fill="#666666" textLength="60.0" lengthAdjust="spacing">$200</text>
<text x="1216.1" y="2301.0" font-size="26.2" fill="#666666" textLength="51.2" lengthAdjust="spacingAndGlyphs">Max</text>
<text x="1346.5" y="2301.0" font-size="26.2" fill="#666666" textLength="99.2" lengthAdjust="spacingAndGlyphs">Average</text>
<text x="1507.2" y="2301.0" font-size="26.2" fill="#666666" textLength="88.4" lengthAdjust="spacingAndGlyphs">Median</text>
<text x="1684.5" y="2301.0" font-size="26.2" fill="#666666" textLength="43.4" lengthAdjust="spacingAndGlyphs">Min</text>
<text transform="translate(1058.3,2178.4) rotate(-90)" font-size="30.0" fill="#748CA4" font-weight="bold" textLength="61.6" lengthAdjust="spacingAndGlyphs">Price</text>
<text transform="translate(1058.3,2104.6) rotate(-90)" font-size="30.0" fill="#748CA4" font-weight="bold" textLength="34.6" lengthAdjust="spacingAndGlyphs">(in</text>
<text transform="translate(1058.3,2061.3) rotate(-90)" font-size="30.0" fill="#748CA4" font-weight="bold" textLength="147.5" lengthAdjust="spacingAndGlyphs">thousands)</text>
<rect x="1197.40" y="2331.80" width="404.10" height="65.20" rx="11" ry="11" fill="#fff" stroke="#909090" stroke-width="2.2"/>
<rect x="1214.90" y="2347.20" width="37.50" height="28.00" rx="5.5" ry="5.5" fill="#454545"/>
<rect x="1414.20" y="2347.20" width="37.50" height="28.00" rx="5.5" ry="5.5" fill="#89A54E"/>
<text x="1264.7" y="2372.8" font-size="29.6" fill="#3E576F" textLength="130.6" lengthAdjust="spacingAndGlyphs">Sold Price</text>
<text x="1464.5" y="2372.8" font-size="29.6" fill="#3E576F" textLength="120.0" lengthAdjust="spacingAndGlyphs">List Price</text>
</g>
</svg>
</body>
</html>
